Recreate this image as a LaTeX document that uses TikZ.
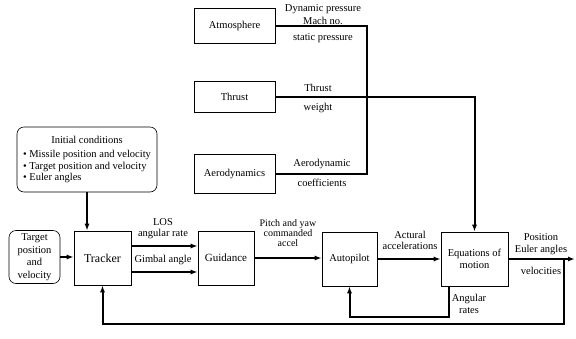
\documentclass[tikz,border=0pt]{standalone}
\usepackage{fontspec}
\setmainfont{Liberation Serif}
\usetikzlibrary{arrows.meta}
\tikzset{blk/.style={draw, line width=0.6pt, inner sep=1pt, align=center},
  rblk/.style={blk, rounded corners=7pt},
  flow/.style={line width=2pt},
  lbl/.style={inner sep=0pt, align=center}}

\begin{document}
\begin{tikzpicture}[x=1pt, y=-1pt, >={Latex[length=7pt,width=5pt]},
    font=\fontsize{10.5}{11.5}\selectfont]
      \useasboundingbox (0,0) rectangle (576,338);

      % data blocks
      \node [blk, minimum width=81pt, minimum height=35pt] (atm) at (234.5,25.5) {Atmosphere};
      \node [blk, minimum width=81pt, minimum height=31pt] (thr) at (234.5,97) {Thrust};
      \node [blk, minimum width=81pt, minimum height=39pt] (aero) at (234.5,173.5) {Aerodynamics};

      % main loop
      \node [rblk, minimum width=140pt, minimum height=65pt] (init) at (87,159.5) {\begin{tabular}{@{}l@{}}\multicolumn{1}{@{}c@{}}{Initial conditions}\\[3pt]\textbullet\ Missile position and velocity\\ \textbullet\ Target position and velocity\\ \textbullet\ Euler angles\end{tabular}};
      \node [rblk, minimum width=51pt, minimum height=53pt, font=\fontsize{10.5}{12.5}\selectfont] (tgt) at (34.5,257) {Target\\position\\and\\velocity};
      \node [blk, minimum width=57pt, minimum height=54pt, font=\fontsize{12}{14}\selectfont] (trk) at (102.5,258) {Tracker};
      \node [blk, minimum width=56pt, minimum height=54pt, font=\fontsize{11}{13}\selectfont] (gui) at (226,258) {Guidance};
      \node [blk, minimum width=55pt, minimum height=54pt] (ap) at (349.5,259) {Autopilot};
      \node [blk, minimum width=67pt, minimum height=54pt] (eom) at (474.5,259) {Equations of\\motion};

      \coordinate (bus) at (367,0);
      \coordinate (drop) at (eom.north |- thr.east);
      \coordinate (out) at (575,259);
      \coordinate (fb) at (564,259);
      \coordinate (fbb) at (564,324);
      \coordinate (ar) at (449,317);

      \draw [flow] (atm.east) -| (bus |- aero.east) -- (aero.east);
      \draw [flow, ->] (thr.east) -- (drop) -- (eom.north);

      \draw [flow, ->] (init) -- (init |- trk.north);
      \draw [flow, ->] (tgt.east) -- (tgt.east -| trk.west);
      \draw [flow, ->] ([yshift=12pt]trk.east) -- ([yshift=12pt]trk.east -| gui.west);
      \draw [flow, ->] ([yshift=-14pt]trk.east) -- ([yshift=-14pt]trk.east -| gui.west);
      \draw [flow, ->] (gui.east) -- (gui.east -| ap.west);
      \draw [flow, ->] (ap.east) -- (ap.east -| eom.west);
      \draw [flow, ->] (eom.east) -- (out);
      \draw [flow, ->] (fb) -- (fbb) -| (trk.south);
      \draw [flow, ->] (eom.south -| ar) -- (ar) -| (ap.south);

      % signal labels
      \node [lbl] (dpl) at (323,9) {Dynamic pressure};
      \node [lbl] (machl) at (323,21) {Mach no.};
      \node [lbl] (spl) at (323,38) {static pressure};
      \node [lbl] (thl) at (318,88) {Thrust};
      \node [lbl] (wtl) at (318,108) {weight};
      \node [lbl] (adl) at (322,164) {Aerodynamic};
      \node [lbl] (cfl) at (322,183) {coefficients};
      \node [lbl] (losl) at (163,228.5) {LOS\\angular rate};
      \node [lbl] (gal) at (163,260) {Gimbal angle};
      \node [lbl, font=\fontsize{10}{10}\selectfont] (pyl) at (288,233.5) {Pitch and yaw\\commanded\\accel};
      \node [lbl] (accl) at (410,240.5) {Actural\\accelerations};
      \node [lbl, font=\fontsize{10.5}{12.5}\selectfont] (posl) at (541,244) {Position\\Euler angles};
      \node [lbl] (vell) at (541,271) {velocities};
      \node [lbl] (arl) at (469,304) {Angular\\rates};
    \end{tikzpicture}
\end{document}
